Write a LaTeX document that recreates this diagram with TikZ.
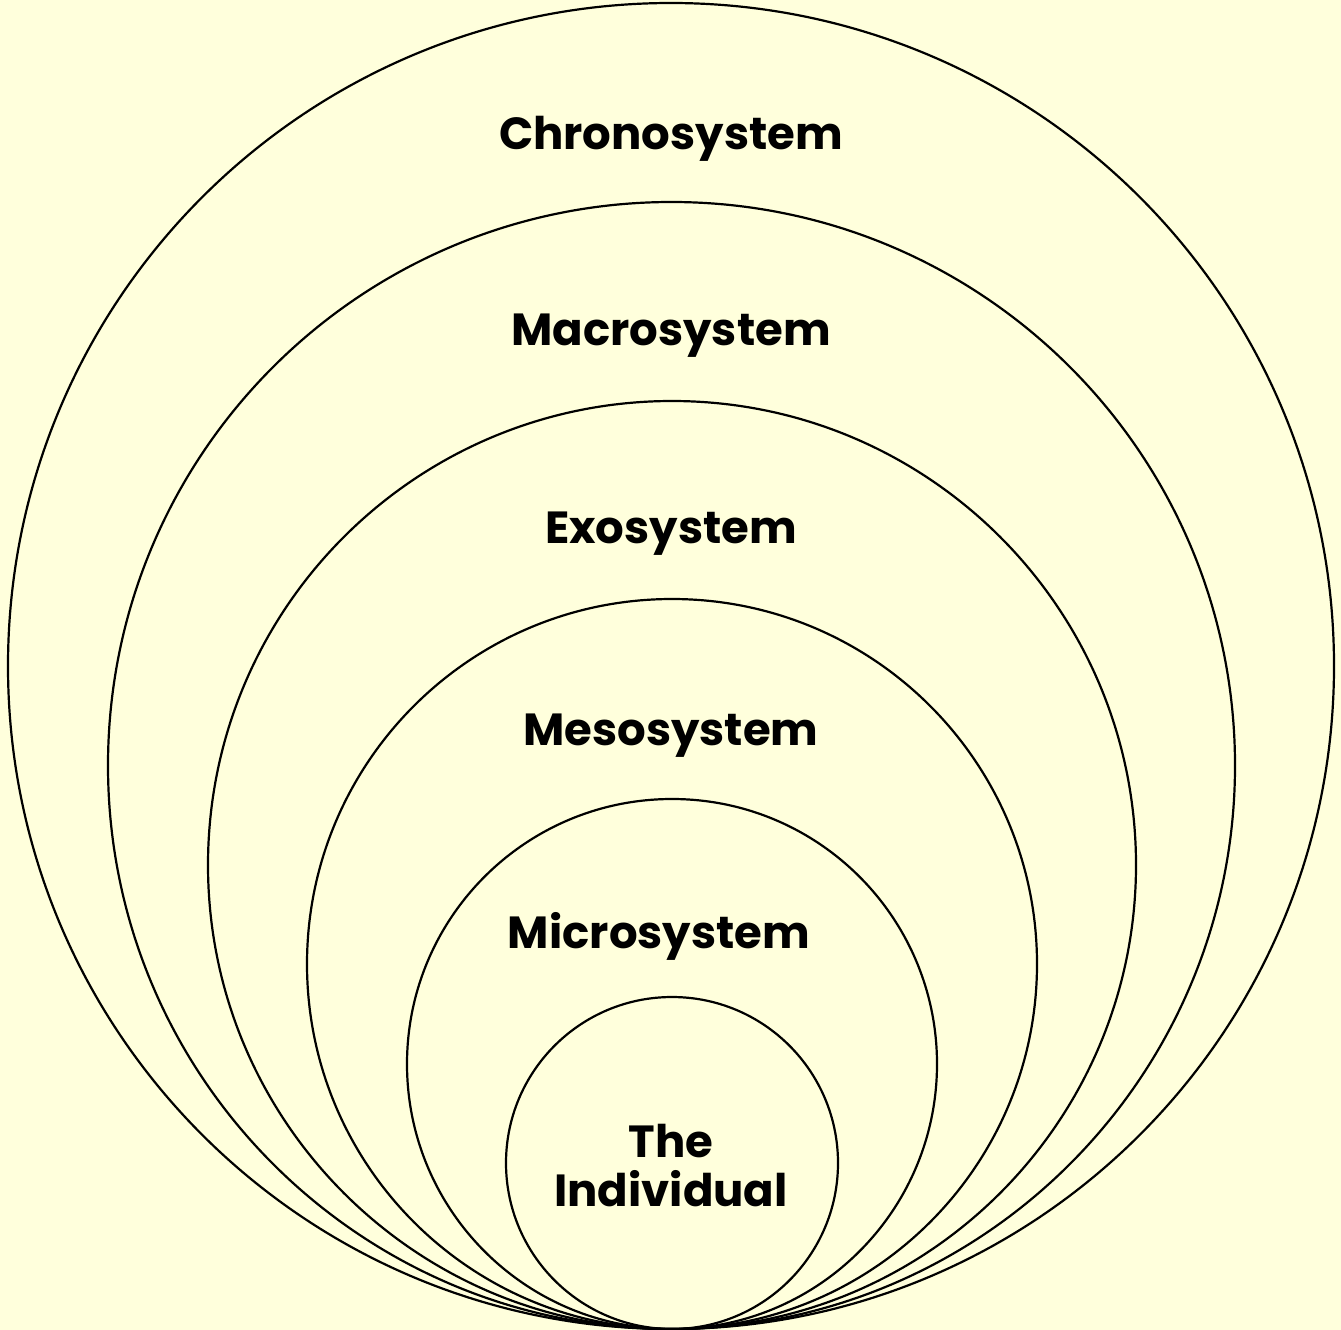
\documentclass[tikz,border=0pt]{standalone}
\usepackage{fontspec}
\setmainfont{Poppins}[BoldFont={* Bold}]
\definecolor{bgyellow}{HTML}{FFFFDC}
\tikzset{
  ring/.style={circle, draw=black, line width=2.2pt, inner sep=0pt, minimum size=#1},
  lbl/.style={font=\fontsize{45}{49}\selectfont\bfseries, text=black, align=center, inner sep=0pt}
}
\begin{document}
\begin{tikzpicture}[x=1pt,y=-1pt]
\fill[bgyellow] (0,0) rectangle (1341,1330);
\useasboundingbox (0,0) rectangle (1341,1330);
\node[ring=1326pt] (chrono) at (671,666) {};
\node[ring=1127pt] (macro) at (671.5,765.5) {};
\node[ring=928pt] (exo) at (672,865) {};
\node[ring=730pt] (meso) at (672,964) {};
\node[ring=530pt] (micro) at (672,1064) {};
\node[ring=332pt] (indiv) at (672,1163) {};
\node[lbl] (tchrono) at (671,139) {Chronosystem};
\node[lbl] (tmacro) at (671,336) {Macrosystem};
\node[lbl] (texo) at (671,534) {Exosystem};
\node[lbl] (tmeso) at (671,736) {Mesosystem};
\node[lbl] (tmicro) at (659,936) {Microsystem};
\node[lbl] (tindiv) at (671,1166) {The\\Individual};
\end{tikzpicture}
\end{document}
